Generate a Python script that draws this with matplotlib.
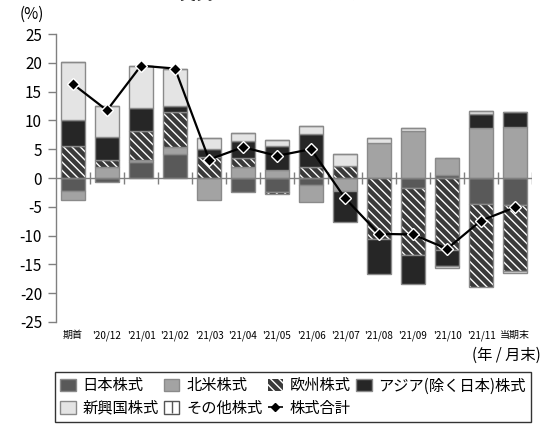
import numpy as np
import matplotlib
matplotlib.use("Agg")
import matplotlib.pyplot as plt
from matplotlib.patches import Patch
from matplotlib.lines import Line2D

plt.rcParams["font.family"] = ["Noto Sans CJK JP", "DejaVu Sans"]
plt.rcParams["axes.unicode_minus"] = False
plt.rcParams["hatch.linewidth"] = 1.0

# ─── DATA ──────────────────────────────────────────────────────────────────────
categories = ["期首", "'20/12", "'21/01", "'21/02", "'21/03", "'21/04", "'21/05",
              "'21/06", "'21/07", "'21/08", "'21/09", "'21/10", "'21/11", "当期末"]
japan    = [-2.3, -0.75, 2.7, 4.2, 0.0, -2.4, -2.4, -1.2, 0.0, 0.0, -1.8, 0.6, -4.5, -4.7]
n_america = [-1.5, 1.85, 0.5, 1.2, -3.8, 1.85, 1.4, -2.9, -2.2, 6.0, 8.2, 2.8, 8.6, 8.8]
europe   = [5.6, 1.25, 5.0, 6.0, 3.6, 1.55, -0.35, 1.85, 2.15, -10.6, -11.6, -12.5, -14.5, -11.4]
asia     = [4.5, 3.95, 3.9, 1.15, 1.4, 3.1, 4.2, 5.75, -5.5, -6.1, -5.0, -2.7, 2.45, 2.6]
emerging = [10.0, 5.45, 7.4, 6.45, 2.0, 1.25, 1.0, 1.5, 2.05, 1.0, 0.4, -0.5, 0.55, -0.4]
other    = [0.0] * 14
y_ticks  = [-25, -20, -15, -10, -5, 0, 5, 10, 15, 20, 25]

series = [
    ("日本株式", japan, "#595959", None),
    ("北米株式", n_america, "#a3a3a3", None),
    ("欧州株式", europe, "#3a3a3a", "\\\\\\\\"),
    ("アジア(除く日本)株式", asia, "#262626", None),
    ("新興国株式", emerging, "#e4e4e4", None),
    ("その他株式", other, "white", None),
]
EDGE = "#8a8a8a"

fig = plt.figure(figsize=(5.43, 4.25), dpi=100)
ax = fig.add_axes([56 / 543, 1 - 322 / 425, 476 / 543, 288 / 425])

x = np.arange(len(categories))
pos_bottom = np.zeros(len(x))
neg_bottom = np.zeros(len(x))
width = 0.68
for name, vals, color, hatch in series:
    v = np.array(vals, dtype=float)
    bottom = np.where(v >= 0, pos_bottom, neg_bottom)
    if hatch:
        ax.bar(x, v, width, bottom=bottom, color=color, edgecolor="white",
               hatch=hatch, linewidth=0, zorder=2)
        ax.bar(x, v, width, bottom=bottom, fill=False, edgecolor=EDGE,
               linewidth=1.0, zorder=2)
    else:
        ax.bar(x, v, width, bottom=bottom, color=color, edgecolor=EDGE,
               linewidth=1.0, zorder=2)
    pos_bottom += np.where(v >= 0, v, 0)
    neg_bottom += np.where(v < 0, v, 0)

total = pos_bottom + neg_bottom
ax.plot(x, total, color="black", lw=1.6, marker="D", markersize=6,
        markerfacecolor="black", markeredgecolor="white", markeredgewidth=1.0,
        zorder=4)

# zero line with category separators
ax.axhline(0, color="#808080", lw=1.0, zorder=3)
ax.vlines(x + 0.5, -1.1, 1.1, color="#808080", lw=1.0, zorder=3)

ax.set_xlim(-0.5, len(categories) - 0.5)
ax.set_ylim(-25, 25)
ax.set_yticks(y_ticks)
ax.set_yticklabels([str(t) for t in y_ticks], fontsize=11)
ax.set_xticks(x)
ax.set_xticklabels(categories, fontsize=7.2)
ax.tick_params(axis="x", length=0, pad=6)
ax.tick_params(axis="y", direction="out", length=6, color="#808080", width=1.0, pad=4)
for s in ["top", "right", "bottom"]:
    ax.spines[s].set_visible(False)
ax.spines["left"].set_color("#808080")
ax.spines["left"].set_linewidth(1.0)

fig.text(20 / 543, 1 - 14 / 425, "(%)", fontsize=11, va="center", ha="left")
fig.text(0.5, 1 - 3 / 425, "＜実質株式組入比率の推移＞", fontsize=12, fontweight="bold",
         ha="center", va="bottom")
fig.text(541 / 543, 1 - 355 / 425, "(年 / 月末)", fontsize=11, ha="right", va="center")

# legend handles
handles = {}
for name, vals, color, hatch in series:
    if hatch:
        handles[name] = Patch(facecolor=color, edgecolor="white", hatch=hatch, linewidth=0)
    else:
        handles[name] = Patch(facecolor=color, edgecolor=EDGE, linewidth=1.0)
handles["その他株式"] = (Patch(facecolor="white", edgecolor="#555555", linewidth=1.0),
                     Line2D([], [], marker="|", markersize=9, color="#555555",
                            markeredgewidth=1.0, ls="none"))
handles["株式合計"] = Line2D([], [], color="black", lw=1.2, ls="--", marker="D",
                             markersize=4, markerfacecolor="black", markeredgecolor="black")
order = ["日本株式", "新興国株式", "北米株式", "その他株式", "欧州株式", "株式合計",
         "アジア(除く日本)株式"]
leg = fig.legend([handles[k] for k in order], order, ncol=4, loc="upper left",
                 bbox_to_anchor=(55 / 543, 1 - 372 / 425), fontsize=11,
                 frameon=True, fancybox=False, edgecolor="black", handlelength=1.0,
                 handleheight=0.9, handletextpad=0.45, columnspacing=0.35,
                 labelspacing=0.35, borderpad=0.35, borderaxespad=0)
leg.get_frame().set_linewidth(1.0)

fig.savefig("out.png", dpi=100)
